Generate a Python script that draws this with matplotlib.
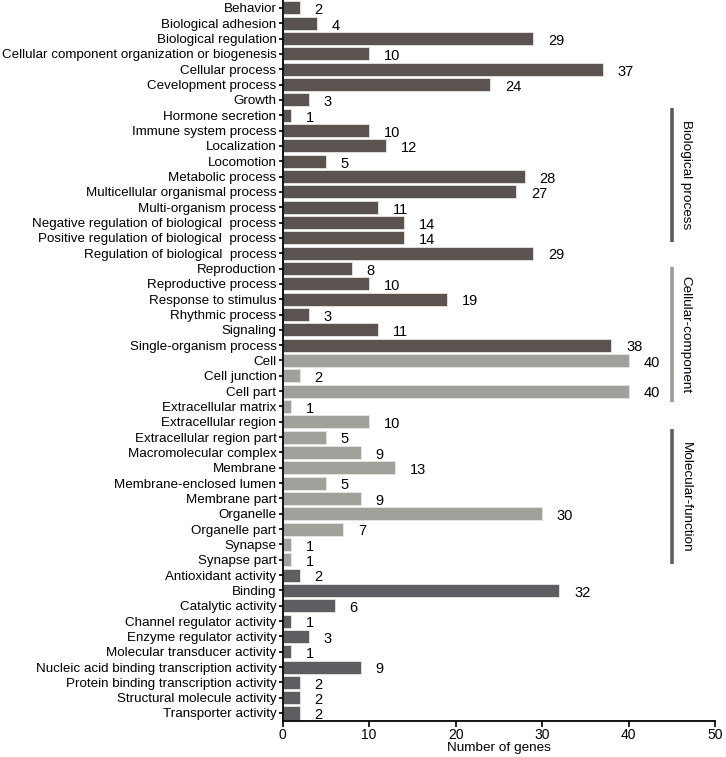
import numpy as np
import matplotlib.pyplot as plt

plt.rcParams["font.family"] = ["Liberation Sans", "DejaVu Sans"]

# -- Data ---------------------------------------------------------
bp_terms = [
    "Behavior", "Biological adhesion", "Biological regulation",
    "Cellular component organization or biogenesis", "Cellular process",
    "Cevelopment process", "Growth", "Hormone secretion",
    "Immune system process", "Localization", "Locomotion",
    "Metabolic process", "Multicellular organismal process",
    "Multi-organism process", "Negative regulation of biological  process",
    "Positive regulation of biological  process",
    "Regulation of biological  process", "Reproduction",
    "Reproductive process", "Response to stimulus", "Rhythmic process",
    "Signaling", "Single-organism process",
]
bp_counts = [2, 4, 29, 10, 37, 24, 3, 1, 10, 12, 5, 28, 27, 11, 14, 14, 29,
             8, 10, 19, 3, 11, 38]

cc_terms = [
    "Cell", "Cell junction", "Cell part", "Extracellular matrix",
    "Extracellular region", "Extracellular region part",
    "Macromolecular complex", "Membrane", "Membrane-enclosed lumen",
    "Membrane part", "Organelle", "Organelle part", "Synapse", "Synapse part",
]
cc_counts = [40, 2, 40, 1, 10, 5, 9, 13, 5, 9, 30, 7, 1, 1]

mf_terms = [
    "Antioxidant activity", "Binding", "Catalytic activity",
    "Channel regulator activity", "Enzyme regulator activity",
    "Molecular transducer activity",
    "Nucleic acid binding transcription activity",
    "Protein binding transcription activity",
    "Structural molecule activity", "Transporter activity",
]
mf_counts = [2, 32, 6, 1, 3, 1, 9, 2, 2, 2]

# -- Colours --------------------------------------------------------
BP_COL = "#5b534f"
CC_COL = "#a2a09b"
MF_COL = "#5c5e61"
BP_BAR = "#615a56"
CC_BAR = "#9b9b8f"
MF_BAR = "#606167"

terms = bp_terms + cc_terms + mf_terms
counts = bp_counts + cc_counts + mf_counts
colors = [BP_COL] * len(bp_terms) + [CC_COL] * len(cc_terms) + [MF_COL] * len(mf_terms)
y = np.arange(len(terms))

fig = plt.figure(figsize=(7.26, 7.57), dpi=100)
ax = fig.add_axes([0.3894, 0.0476, 0.5956, 0.9524])

ax.barh(y, counts, height=0.85, color=colors, edgecolor="#e8e6e2", linewidth=0.6)
for yi, c in zip(y, counts):
    ax.text(c + 1.7, yi + 0.15, str(c), va="center", ha="left", fontsize=10.5)

ax.set_ylim(len(terms) - 0.48, -0.52)
ax.set_xlim(0, 50)
ax.set_yticks(y)
ax.set_yticklabels(terms, fontsize=9.6)
ax.set_xticks(np.arange(0, 51, 10))
ax.tick_params(axis="x", labelsize=10, length=4, width=1.2, pad=1)
ax.tick_params(axis="y", length=3, width=1.2, pad=1.5)
ax.set_xlabel("Number of genes", fontsize=9.7, labelpad=0)

for side in ["top", "right"]:
    ax.spines[side].set_visible(False)
for side in ["left", "bottom"]:
    ax.spines[side].set_linewidth(1.3)

# -- Group markers on the right ------------------------------------
groups = [
    ("Biological process", 6.5, 15.3, BP_BAR),
    ("Cellular-component", 16.9, 25.7, CC_BAR),
    ("Molecular-function", 27.5, 36.3, MF_BAR),
]
for name, y0, y1, col in groups:
    ax.plot([45, 45], [y0, y1], color=col, linewidth=2.6, solid_capstyle="butt")
    ax.text(46.6, (y0 + y1) / 2, name, rotation=-90, va="center", ha="center",
            fontsize=9.7)

plt.savefig("out.png", dpi=100)
